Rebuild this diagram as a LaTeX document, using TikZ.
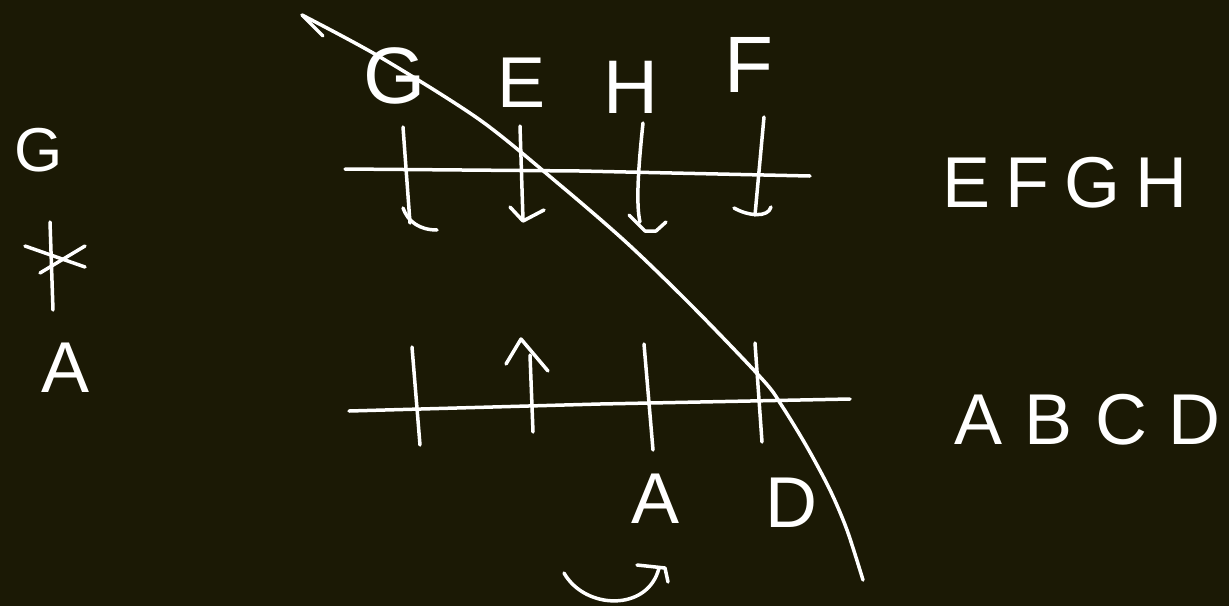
\documentclass[tikz,border=0pt]{standalone}
\usepackage{fontspec}
\setmainfont{Liberation Sans}
\definecolor{bg}{RGB}{27,25,5}
\tikzset{
  ink/.style={draw=white, line width=3.5pt, line cap=round, line join=round},
  lbl/.style={text=white, font=\fontsize{72}{80}\selectfont, inner sep=0pt, anchor=center},
}
\begin{document}
\begin{tikzpicture}[x=1pt,y=-1pt]
\fill[bg] (0,0) rectangle (1229,606);
\useasboundingbox (0,0) rectangle (1229,606);
% left column
\node[lbl, font=\fontsize{62}{70}\selectfont] (lg) at (39,150) {G};
\draw[ink] (50,222) -- (53,310);
\draw[ink] (25,246) -- (85,267);
\draw[ink] (40,273) -- (85,246);
\node[lbl] (la) at (66,368) {A};
% top horizontal line and ticks
\draw[ink] (345,169) -- (580,171) -- (810,176);
\draw[ink] (403,127) -- (410,223);
\draw[ink] (403,208) .. controls (408,222) and (420,230) .. (437,230);
\draw[ink] (520,126) -- (523,220);
\draw[ink] (510,207) -- (523,221) -- (544,210);
\draw[ink] (643,123) .. controls (638,170) and (636,205) .. (640,222);
\draw[ink] (629,215) -- (645,231) -- (656,231) -- (666,222);
\draw[ink] (764,117) -- (755,215);
\draw[ink] (734,208) .. controls (748,216) and (768,218) .. (771,207);
% top labels
\node[lbl, font=\fontsize{80}{88}\selectfont] (tg) at (395,76) {G};
\node[lbl] (te) at (522,83) {E};
\node[lbl, font=\fontsize{76}{84}\selectfont] (th) at (631,87) {H};
\node[lbl, font=\fontsize{80}{88}\selectfont] (tf) at (749,65) {F};
% big curve with half arrow head
\draw[ink] plot[smooth, tension=0.5] coordinates {(302,15) (380,57) (480,120) (560,185) (627,243) (693,307) (763,380) (782,406) (807,447) (830,490) (847,530) (863,580)};
\draw[ink] (302,15) -- (323,36);
% bottom horizontal line and ticks
\draw[ink] (349,411) -- (600,404) -- (850,399);
\draw[ink] (412,347) -- (420,445);
\draw[ink] (530,355) -- (533,432);
\draw[ink] (506,364) -- (521,339) -- (548,371);
\draw[ink] (644,344) -- (653,450);
\draw[ink] (755,343) -- (762,442);
% bottom labels
\node[lbl] (ba) at (656,499) {A};
\node[lbl] (bd) at (791,503) {D};
% curved arrow
\draw[ink] (564,573) .. controls (585,610) and (648,612) .. (659,568);
\draw[ink] (637,565) -- (665,568) -- (668,582);
% right labels
\node[lbl] (efgh) at (1065,183) {E\hspace{15pt}F\hspace{15pt}G\hspace{15pt}H};
\node[lbl] (abcd) at (1088,420) {A\hspace{22pt}B\hspace{22pt}C\hspace{22pt}D};
\end{tikzpicture}
\end{document}
